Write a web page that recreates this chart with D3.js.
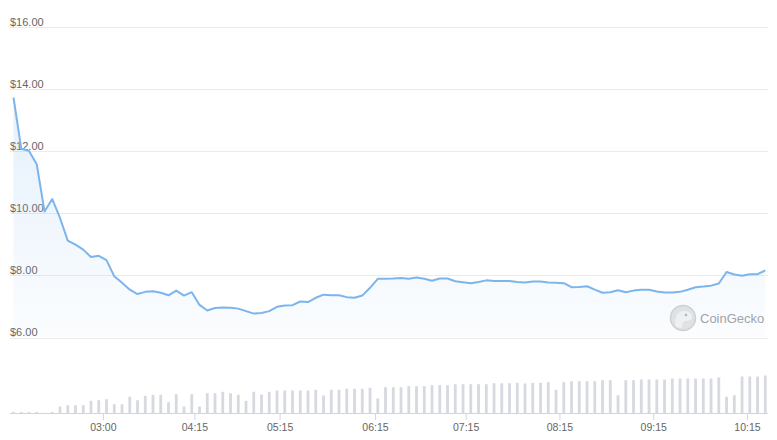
<!DOCTYPE html>
<html>
<head>
<meta charset="utf-8">
<script src="https://cdn.jsdelivr.net/npm/d3@7"></script>
<style>
  body { margin: 0; background: #fff; }
  svg { display: block; font-family: "Liberation Sans", Arial, sans-serif; }
</style>
</head>
<body>
<svg></svg>
<script>
// price every 5 min (ordinal axis, gaps removed)
var prices = [13.73, 12.08, 12.01, 11.58, 10.06, 10.46, 9.85, 9.12, 8.99, 8.83,
    8.59, 8.63, 8.49, 7.97, 7.76, 7.54, 7.40, 7.47, 7.49, 7.44,
    7.36, 7.51, 7.35, 7.46, 7.05, 6.87, 6.95, 6.97, 6.96, 6.93,
    6.85, 6.77, 6.79, 6.85, 6.99, 7.03, 7.04, 7.16, 7.14, 7.28,
    7.38, 7.36, 7.36, 7.30, 7.28, 7.35, 7.60, 7.89, 7.89, 7.90,
    7.92, 7.89, 7.93, 7.89, 7.83, 7.90, 7.90, 7.81, 7.78, 7.75,
    7.79, 7.84, 7.82, 7.82, 7.82, 7.79, 7.77, 7.80, 7.80, 7.77,
    7.76, 7.75, 7.62, 7.63, 7.65, 7.54, 7.44, 7.46, 7.52, 7.46,
    7.51, 7.54, 7.54, 7.48, 7.45, 7.45, 7.47, 7.54, 7.62, 7.64,
    7.67, 7.74, 8.11, 8.03, 7.99, 8.04, 8.04, 8.16];

var volumes = [15, 15, 15, 15, 0, 15, 70, 83, 83, 83,
    127, 133, 143, 93, 93, 167, 133, 177, 187, 187,
    113, 193, 70, 193, 70, 203, 203, 217, 203, 187,
    127, 218, 190, 217, 230, 230, 230, 230, 230, 237,
    180, 237, 237, 247, 247, 247, 257, 150, 263, 263,
    263, 273, 273, 273, 283, 283, 283, 293, 293, 293,
    293, 293, 303, 303, 303, 307, 300, 307, 307, 313,
    237, 313, 323, 323, 323, 323, 333, 333, 183, 333,
    333, 340, 340, 340, 340, 350, 350, 350, 350, 350,
    350, 360, 167, 183, 370, 370, 370, 380];

var priceTicks = [6, 8, 10, 12, 14, 16];
var timeLabels = ["03:00", "04:15", "05:15", "06:15", "07:15", "08:15", "09:15", "10:15"];
var timeTickPos = [11.6, 23.4, 34.4, 46.7, 58.4, 70.5, 82.6, 94.7];

var width = 777,
    height = 440,
    svg = d3.select("svg").attr("width", width).attr("height", height),
    lineColor = "#7cb5ec",
    fmt = d3.format(".2f");

var x = d3.scaleLinear().domain([0, prices.length - 1]).range([13.5, 765.3]);
var y = d3.scaleLinear().domain([6, 16]).range([337.5, 27]);
var yVol = d3.scaleLinear().domain([0, 400]).range([413.5, 373.5]);

//gradient for area
var grad = svg.append("defs").append("linearGradient")
    .attr("id", "areaGrad")
    .attr("x1", 0).attr("y1", 0).attr("x2", 0).attr("y2", 1);
grad.append("stop").attr("offset", "0%").attr("stop-color", lineColor).attr("stop-opacity", 0.2);
grad.append("stop").attr("offset", "100%").attr("stop-color", lineColor).attr("stop-opacity", 0.03);

//grid + price labels
var grid = svg.append("g").selectAll("g")
    .data(priceTicks)
    .enter().append("g");

grid.append("line")
    .attr("x1", 10).attr("x2", 768)
    .attr("y1", function(d) { return Math.round(y(d)) + 0.5; })
    .attr("y2", function(d) { return Math.round(y(d)) + 0.5; })
    .attr("stroke", "#ebebeb");

grid.append("text")
    .attr("x", 10)
    .attr("y", function(d) { return y(d) - 1.5; })
    .attr("font-size", 11)
    .attr("fill", "#666")
    .text(function(d) { return "$" + fmt(d); });

// watermark
var wm = svg.append("g").attr("transform", "translate(683,318)");
wm.append("circle").attr("r", 12.5).attr("fill", "#e4e4e4").attr("stroke", "#d2d2d2").attr("stroke-width", 1.5);
wm.append("path")
    .attr("d", "M-7,9 C-9,0 -6,-7 1,-7 C6,-7 9,-4 9,-1 C9,2 5,3 2,3 C0,3 -1,6 -1,10 Z")
    .attr("fill", "#f3f3f3");
wm.append("circle").attr("cx", 3).attr("cy", -3).attr("r", 1.3).attr("fill", "#b5b5b5");
svg.append("text")
    .attr("x", 700).attr("y", 322.7)
    .attr("font-size", 13)
    .attr("fill", "#a3a3a3")
    .text("CoinGecko");

// area + line
var area = d3.area()
    .x(function(d, i) { return x(i); })
    .y0(y(6))
    .y1(function(d) { return y(d); });

var line = d3.line()
    .x(function(d, i) { return x(i); })
    .y(function(d) { return y(d); });

svg.append("path")
    .datum(prices)
    .attr("d", area)
    .attr("fill", "url(#areaGrad)");

svg.append("path")
    .datum(prices)
    .attr("d", line)
    .attr("fill", "none")
    .attr("stroke", lineColor)
    .attr("stroke-width", 2)
    .attr("stroke-linejoin", "round");

// volume bars
svg.append("g").selectAll("rect")
    .data(volumes)
    .enter().append("rect")
    .attr("x", function(d, i) { return x(i) - 1.4; })
    .attr("width", 2.8)
    .attr("y", function(d) { return yVol(d); })
    .attr("height", function(d) { return yVol(0) - yVol(d); })
    .attr("fill", "#d6d9e0");

// x axis
svg.append("line")
    .attr("x1", 10).attr("x2", 768)
    .attr("y1", 413.5).attr("y2", 413.5)
    .attr("stroke", "#ccd6eb");

var ticks = svg.append("g").selectAll("g")
    .data(timeLabels)
    .enter().append("g")
    .attr("transform", function(d, i) { return "translate(" + x(timeTickPos[i]) + ",0)"; });

ticks.append("line")
    .attr("y1", 413.5).attr("y2", 420)
    .attr("stroke", "#ccd6eb");

ticks.append("text")
    .attr("y", 431)
    .attr("text-anchor", "middle")
    .attr("font-size", 10.5)
    .attr("fill", "#666")
    .text(function(d) { return d; });
</script>
</body>
</html>
